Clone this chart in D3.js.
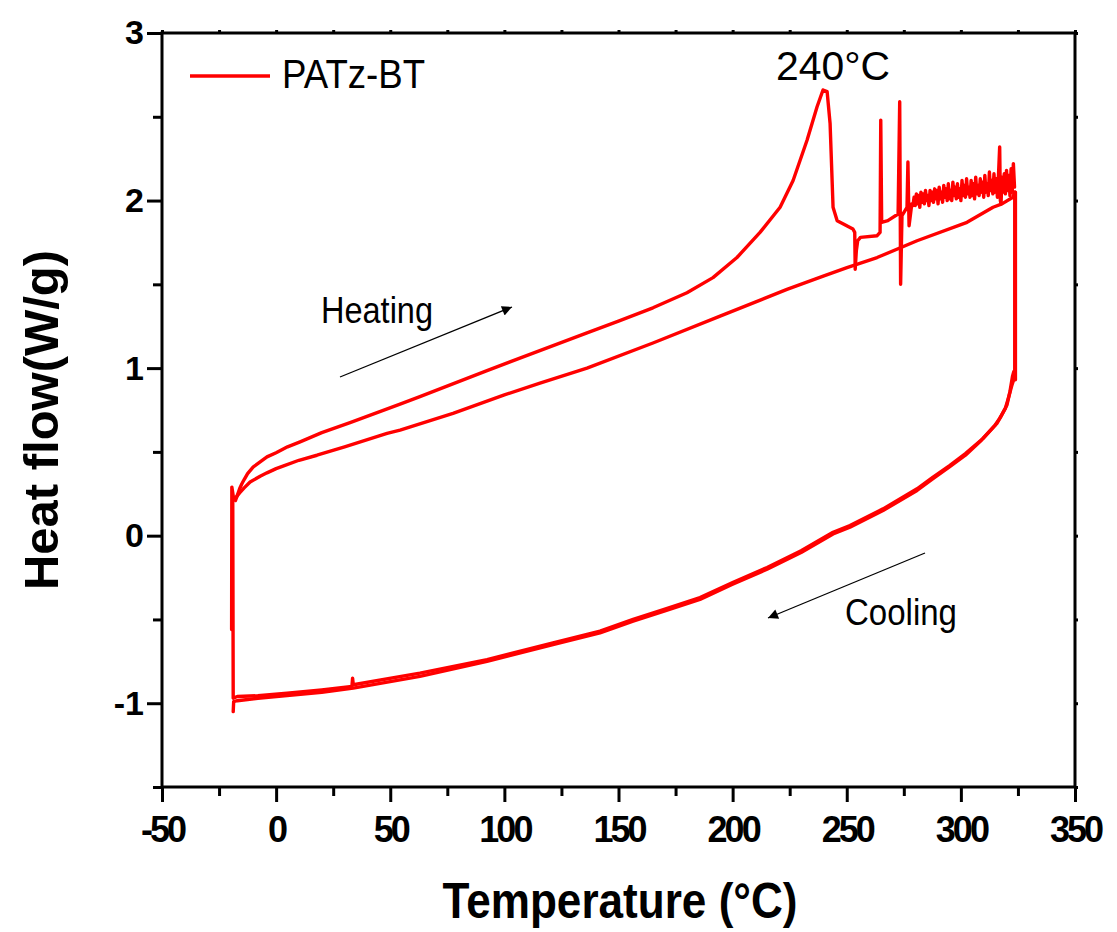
<!DOCTYPE html>
<html><head><meta charset="utf-8">
<script src="https://cdn.jsdelivr.net/npm/d3@7"></script>
<style>
body{margin:0;background:#fff;}
text{font-family:"Liberation Sans",Arial,sans-serif;}
</style></head>
<body><svg id="chart" width="1117" height="932"></svg>
<script>
// ---- data ----
const xTicks = [-50, 0, 50, 100, 150, 200, 250, 300, 350];
const yTicks = [-1, 0, 1, 2, 3];
const seriesName = "PATz-BT";

// first heating (with melting peak and noisy tail)
const heat1T = [-19.5,-19.4,-18.6,-17.8,-17,-16,-15,-14,-12.5,-10,-7,-4,0,5,10.5,20,32.4,54.3,63,92.4,106.8,136.2,150,165.1,180,191.4,201.9,212,220.8,226.5,232.6,237,239.6,241.4,242.7,244,245.8,252.7,253.5,253.7,254.2,254.8,256,263.3,264.6,264.9,265.3,268,272.5,273.2,273.6,274.2,276.4,276.8,277.3,278.5,
  279,279.5,280,280.5,281,281.5,282,282.5,283,283.5,284,284.5,285,285.5,286,286.5,287,287.5,288,288.5,289,289.5,290,290.5,291,291.5,292,292.5,293,293.5,294,294.5,295,295.5,296,296.5,297,297.5,298,298.5,299,299.5,
  300,300.5,301,301.5,302,302.5,303,303.5,304,304.5,305,305.5,306,306.5,307,307.5,308,308.5,309,309.5,310,310.5,311,311.5,312,312.5,313,313.5,314,314.5,315,315.5,316,316.5,317,317.3,317.6,318,318.5,319,319.5,320,320.5,321,321.5,322,322.5,323,323.5];
const heat1V = [-0.56,0.29,0.22,0.21,0.24,0.28,0.31,0.335,0.37,0.41,0.44,0.47,0.495,0.53,0.56,0.615,0.675,0.785,0.83,0.985,1.06,1.21,1.28,1.36,1.45,1.54,1.66,1.81,1.96,2.12,2.36,2.56,2.66,2.65,2.46,1.96,1.88,1.83,1.81,1.59,1.70,1.76,1.78,1.79,1.81,2.48,1.87,1.88,1.92,2.59,1.50,1.91,1.96,2.23,1.85,1.98,
  1.97,2.02,1.97,2.04,1.98,2.03,1.96,2.05,1.99,2.04,1.98,2.06,2.00,2.03,1.97,2.06,2.00,2.05,1.99,2.07,2.01,2.06,1.98,2.08,2.01,2.05,1.99,2.09,2.02,2.07,2.00,2.10,2.01,2.06,2.00,2.11,2.03,2.08,2.01,2.10,2.02,2.07,
  2.00,2.12,2.03,2.09,2.02,2.13,2.04,2.08,2.02,2.12,2.03,2.10,2.01,2.14,2.04,2.09,2.03,2.13,2.05,2.11,2.02,2.15,2.05,2.10,2.03,2.17,2.06,2.12,2.04,2.16,2.05,2.13,2.02,2.16,2.32,2.00,1.98,2.14,2.05,2.16,2.04,2.18,2.06,2.15,2.03,2.19,2.05,2.22,2.08];

// first cooling
const cool1T = [323.9,323.9,323.2,322.6,321.5,320.2,317.5,315.8,309.7,302,295.2,287.8,280.8,265.9,251.4,244,230,215.1,200,185.7,170,156.4,141.9,121.3,92.4,63,33.8,33.5,33.2,20,4.8,-8,-17,-18.8,-19];
const cool1V = [2.05,0.93,0.98,0.95,0.86,0.78,0.71,0.67,0.58,0.49,0.42,0.35,0.28,0.16,0.06,0.02,-0.09,-0.19,-0.28,-0.37,-0.44,-0.50,-0.57,-0.64,-0.74,-0.82,-0.89,-0.85,-0.90,-0.92,-0.94,-0.955,-0.96,-0.97,0.22];

// second heating
const heat2T = [-19,-17.5,-16,-14,-11.4,-7,-4,0,3,10,17.9,30,48.6,54.3,77.5,100,115.6,136.2,165.1,194.5,223.8,240,250.1,263.3,280.8,302.7,314.1,318,322.8,323.6];
const heat2V = [0.22,0.23,0.255,0.285,0.32,0.355,0.375,0.40,0.415,0.45,0.48,0.53,0.61,0.63,0.73,0.84,0.91,1.00,1.15,1.31,1.47,1.55,1.60,1.66,1.76,1.87,1.96,1.98,2.02,2.05];

// second cooling
const cool2T = [323.6,323.6,322.4,321,319.5,317,315,309,302,295,287.8,280.8,265.9,251.4,244,230,215.1,200,185.7,170,156.4,141.9,121.3,92.4,63,33.8,20,4.8,-8,-17,-18.6,-18.8];
const cool2V = [2.05,0.95,0.90,0.83,0.76,0.70,0.66,0.57,0.48,0.41,0.34,0.27,0.15,0.05,0.01,-0.10,-0.20,-0.29,-0.38,-0.45,-0.51,-0.58,-0.65,-0.75,-0.84,-0.91,-0.935,-0.955,-0.97,-0.985,-0.99,-1.05];

// ---- chart ----
const svg = d3.select("#chart");
const x = d3.scaleLinear().domain([-50, 350]).range([162, 1075]);
const y = d3.scaleLinear().domain([-1.5, 3]).range([787, 33]);

const segs = [[heat1T, heat1V],[cool1T, cool1V],[heat2T, heat2V],[cool2T, cool2V]];
const line = d3.line().x(d => x(d[0])).y(d => y(d[1]));
segs.forEach(([T, V]) => {
  svg.append("path").datum(T.map((t, i) => [t, V[i]]))
    .attr("d", line).attr("fill", "none").attr("stroke", "#ff0000")
    .attr("stroke-width", 3.4).attr("stroke-linejoin", "round").attr("stroke-linecap", "round");
});

const xMinor = d3.range(-50, 351, 25).filter(v => !xTicks.includes(v));
const yMinor = d3.range(-1.5, 3.01, 0.5).filter(v => !yTicks.includes(v));
const plain = d => String(d);

function styleAxis(g){
  g.select(".domain").remove();
  g.selectAll("line").attr("stroke", "#000").attr("stroke-width", 3);
}
// bottom
svg.append("g").attr("transform", "translate(0,787)")
  .call(d3.axisBottom(x).tickValues(xTicks).tickSize(15).tickPadding(9).tickFormat(plain))
  .call(styleAxis)
  .selectAll("text").attr("font-size", 36).attr("font-weight", "bold").attr("fill", "#000")
  .attr("letter-spacing", "-3px").attr("dy", "0.85em");
svg.append("g").attr("transform", "translate(0,787)")
  .call(d3.axisBottom(x).tickValues(xMinor).tickSize(9).tickFormat(""))
  .call(styleAxis);
// left
svg.append("g").attr("transform", "translate(162,0)")
  .call(d3.axisLeft(y).tickValues(yTicks).tickSize(15).tickPadding(3).tickFormat(plain))
  .call(styleAxis)
  .selectAll("text").attr("font-size", 34).attr("font-weight", "bold").attr("fill", "#000");
svg.append("g").attr("transform", "translate(162,0)")
  .call(d3.axisLeft(y).tickValues(yMinor).tickSize(9).tickFormat(""))
  .call(styleAxis);
// top & right (tiny ticks)
svg.append("g").attr("transform", "translate(0,33)")
  .call(d3.axisTop(x).tickValues(d3.range(-50, 351, 25)).tickSize(3).tickFormat(""))
  .call(styleAxis);
svg.append("g").attr("transform", "translate(1075,0)")
  .call(d3.axisRight(y).tickValues(d3.range(-1.5, 3.01, 0.5)).tickSize(3).tickFormat(""))
  .call(styleAxis);

// frame
svg.append("rect").attr("x", 162).attr("y", 33).attr("width", 913).attr("height", 754)
  .attr("fill", "none").attr("stroke", "#000").attr("stroke-width", 3);

// axis titles
svg.append("text").attr("x", 620).attr("y", 918).attr("text-anchor", "middle")
  .attr("font-size", 50).attr("font-weight", "bold").attr("textLength", 355).attr("lengthAdjust", "spacingAndGlyphs")
  .text("Temperature (°C)");
svg.append("text").attr("transform", "translate(58,420) rotate(-90)").attr("text-anchor", "middle")
  .attr("font-size", 48).attr("font-weight", "bold").attr("textLength", 340).attr("lengthAdjust", "spacingAndGlyphs")
  .text("Heat flow(W/g)");

// legend
svg.append("line").attr("x1", 190).attr("x2", 270).attr("y1", 76).attr("y2", 76)
  .attr("stroke", "#ff0000").attr("stroke-width", 3.4);
svg.append("text").attr("x", 282).attr("y", 88).attr("font-size", 40)
  .attr("textLength", 143).attr("lengthAdjust", "spacingAndGlyphs").text(seriesName);

// annotations
svg.append("text").attr("x", 776).attr("y", 80).attr("font-size", 40)
  .attr("textLength", 114).attr("lengthAdjust", "spacingAndGlyphs").text("240°C");
svg.append("text").attr("x", 321).attr("y", 323).attr("font-size", 36)
  .attr("textLength", 112).attr("lengthAdjust", "spacingAndGlyphs").text("Heating");
svg.append("text").attr("x", 845).attr("y", 625).attr("font-size", 37)
  .attr("textLength", 112).attr("lengthAdjust", "spacingAndGlyphs").text("Cooling");

// arrows
const defs = svg.append("defs");
defs.append("marker").attr("id", "ah").attr("viewBox", "0 0 10 10").attr("refX", 10).attr("refY", 5)
  .attr("markerWidth", 18).attr("markerHeight", 10).attr("markerUnits", "userSpaceOnUse").attr("orient", "auto")
  .append("path").attr("d", "M0,0 L10,5 L0,10 Z").attr("fill", "#000");
svg.append("line").attr("x1", 340).attr("y1", 377).attr("x2", 512).attr("y2", 307)
  .attr("stroke", "#000").attr("stroke-width", 1.3).attr("marker-end", "url(#ah)");
svg.append("line").attr("x1", 925).attr("y1", 553).attr("x2", 768).attr("y2", 618)
  .attr("stroke", "#000").attr("stroke-width", 1.3).attr("marker-end", "url(#ah)");
</script></body></html>
